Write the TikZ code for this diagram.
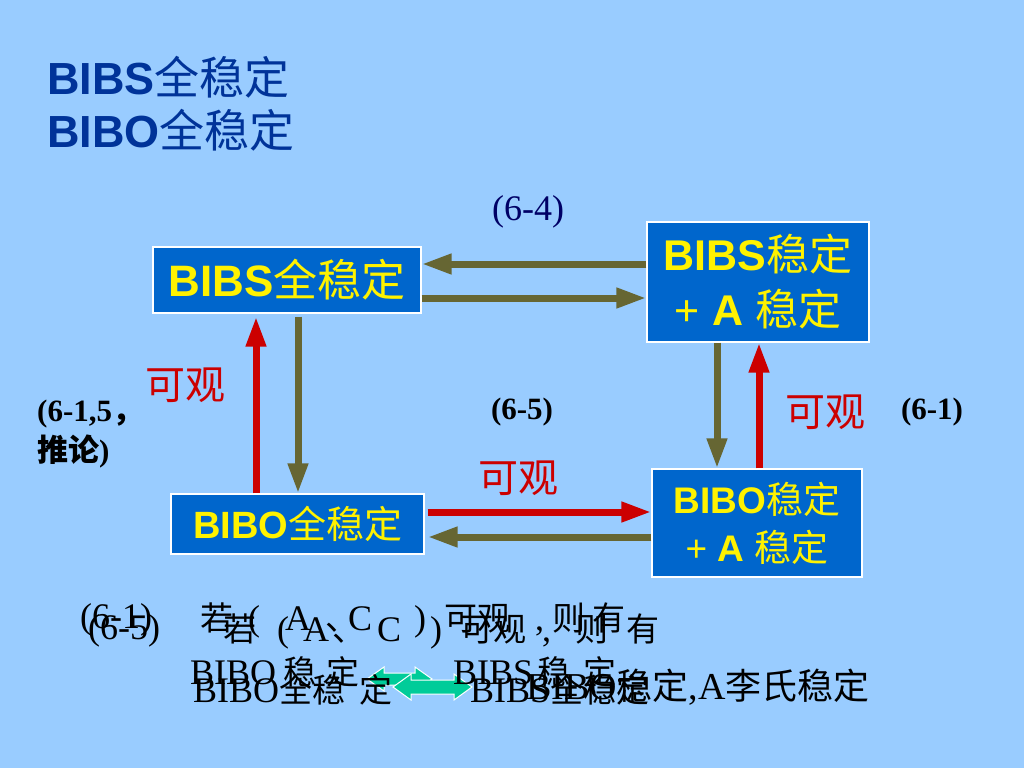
\documentclass[tikz,border=0pt]{standalone}
\usepackage{fontspec}
\setmainfont{Liberation Serif}
\newfontfamily\arialf{Liberation Sans}
\newfontfamily\cjk{Noto Sans CJK SC}
\newcommand\ck[1]{{\cjk\fontsize{33}{36}\selectfont #1}}
\newcommand\ckb[1]{{\cjk\fontsize{36}{40}\selectfont #1}}
\usetikzlibrary{arrows.meta,calc}
\definecolor{bg}{HTML}{99CCFF}
\definecolor{boxblue}{HTML}{0066CC}
\definecolor{ttl}{HTML}{003399}
\definecolor{oliv}{HTML}{666633}
\definecolor{rd}{HTML}{CC0000}
\definecolor{navy}{HTML}{000066}
\definecolor{grn}{HTML}{00CC99}
\begin{document}
\begin{tikzpicture}[x=1pt,y=-1pt,
  box/.style={draw=white,line width=1.2pt,fill=boxblue,text=yellow,inner sep=0pt,align=center,font=\arialf\bfseries},
  oarr/.style={draw=oliv,line width=7pt,-{Triangle[length=30pt,width=19pt]}},
  rarr/.style={draw=rd,line width=7pt,-{Triangle[length=30pt,width=19pt]}},
  ttltext/.style={anchor=west,inner sep=0pt,text=ttl,font=\arialf\bfseries\fontsize{45}{48}\selectfont},
  redlbl/.style={inner sep=0pt,text=rd,font=\cjk\fontsize{40}{44}\selectfont},
  reflbl/.style={inner sep=0pt,font=\bfseries\fontsize{31}{36}\selectfont},
  bottxt/.style={anchor=west,inner sep=0pt,font=\fontsize{36}{40}\selectfont},
  garrow/.style={fill=grn,draw=white,line width=1pt}]
\fill[bg] (0,0) rectangle (1024,768);
\useasboundingbox (0,0) rectangle (1024,768);

% title
\node[ttltext] (title1) at (47,77) {BIBS{\cjk\mdseries 全稳定}};
\node[ttltext] (title2) at (47,130) {BIBO{\cjk\mdseries 全稳定}};

% boxes
\node[box,minimum width=268pt,minimum height=66pt,font=\arialf\bfseries\fontsize{44}{48}\selectfont] (n1) at (287,280) {BIBS{\cjk\mdseries 全稳定}};
\node[box,minimum width=253pt,minimum height=60pt,font=\arialf\bfseries\fontsize{38}{44}\selectfont] (n2) at (297.5,524) {BIBO{\cjk\mdseries 全稳定}};
\node[box,minimum width=222pt,minimum height=120pt,font=\arialf\bfseries\fontsize{43}{55}\selectfont] (n3) at (758,282) {BIBS{\cjk\mdseries 稳定}\\{\mdseries +} A {\cjk\mdseries 稳定}};
\node[box,minimum width=210pt,minimum height=108pt,font=\arialf\bfseries\fontsize{37}{48}\selectfont] (n4) at (757,523) {BIBO{\cjk\mdseries 稳定}\\{\mdseries +} A {\cjk\mdseries 稳定}};

% horizontal arrows
\draw[oarr] (n3.west |- 0,264) -- (n1.east |- 0,264);
\draw[oarr] (n1.east |- 0,298) -- (n3.west |- 0,298);
\draw[rarr,shorten <=3pt] (n2.east |- 0,512) -- (n4.west |- 0,512);
\draw[oarr,shorten >=3pt] (n4.west |- 0,537) -- (n2.east |- 0,537);
% vertical arrows
\draw[rarr,shorten >=3pt] (n2.north -| 256,0) -- (n1.south -| 256,0);
\draw[oarr,shorten <=3pt] (n1.south -| 298,0) -- (n2.north -| 298,0);
\draw[oarr] (n3.south -| 717,0) -- (n4.north -| 717,0);
\draw[rarr] (n4.north -| 759,0) -- (n3.south -| 759,0);

% labels
\node[redlbl] (ob1) at (185,385) {可观};
\node[redlbl] (ob2) at (518,478) {可观};
\node[redlbl] (ob3) at (825,412) {可观};
\node[inner sep=0pt,text=navy,font=\fontsize{36}{40}\selectfont] (r64) at (528,212) {(6-4)};
\node[reflbl] (r65) at (522,412) {(6-5)};
\node[reflbl] (r61) at (932,412) {(6-1)};
\node[reflbl,anchor=west] (r615a) at (37,414) {(6-1,5{\cjk ，}};
\node[reflbl,anchor=west] (r615b) at (37,451) {{\cjk 推论})};

% green double arrows (behind bottom text)
\filldraw[garrow] (367,679) -- (384,667) -- (384,673) -- (415,673) -- (415,667) -- (432,679) -- (415,691) -- (415,685) -- (384,685) -- (384,691) -- cycle;
\filldraw[garrow] (393,687) -- (411,674) -- (411,680) -- (454,680) -- (454,674) -- (472,687) -- (454,700) -- (454,694) -- (411,694) -- (411,700) -- cycle;

% bottom text, upper layer
\node[bottxt] (b1) at (80,620) {(6-1)};
\node[bottxt] (b2) at (200,620) {\ck{若}\hspace{15pt}(\hspace{25pt}A\hspace{14pt}\ck{、}\hspace{-10pt}C\hspace{42pt})\hspace{18pt}\ck{可观}\hspace{25pt},\hspace{8pt}\ck{则}\hspace{7pt}\ck{有}};
\node[bottxt] (b3) at (190,672) {BIBO\hspace{7pt}\ck{稳}\hspace{10pt}\ck{定}};
\node[bottxt] (b4) at (453,672) {BIBS\hspace{4pt}\ck{稳}\hspace{13pt}\ck{定}};
% bottom text, lower layer
\node[bottxt] (b5) at (88,631) {(6-5)};
\node[bottxt] (b6) at (223,631) {\ck{若}\hspace{21pt}(\hspace{14pt}A\hspace{3pt}\ck{、}\hspace{12pt}C\hspace{29pt})\hspace{18pt}\ck{可观}\hspace{16pt},\hspace{24pt}\ck{则}\hspace{18pt}\ck{有}};
\node[bottxt] (b7) at (193,690) {BIBO\ck{全稳}\hspace{14pt}\ck{定}};
\node[bottxt] (b8) at (470,690) {BIBS\ck{全稳定}};
\node[bottxt,anchor=east,font=\fontsize{38}{42}\selectfont] (b9) at (870,687) {BIBO\ckb{稳定},A\ckb{李氏稳定}};
\end{tikzpicture}
\end{document}
